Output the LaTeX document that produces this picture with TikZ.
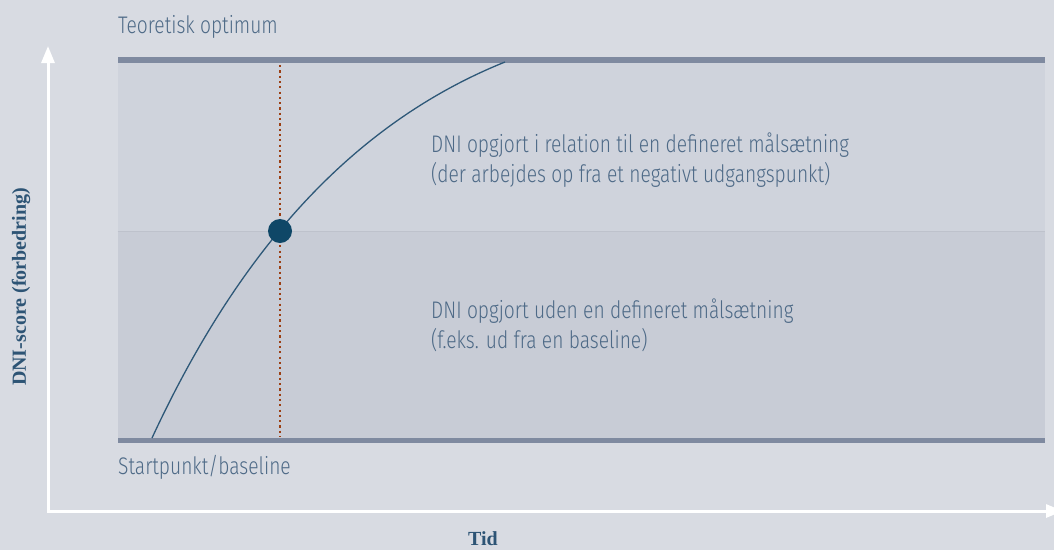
\documentclass[tikz,border=0pt]{standalone}
\usepackage{fontspec}
\setmainfont{Liberation Serif}
\newfontfamily\lightfont{Fira Sans Light}[FakeStretch=0.8]
\usetikzlibrary{arrows.meta}
\definecolor{bg}{HTML}{D8DBE2}
\definecolor{upfill}{HTML}{CFD3DC}
\definecolor{lowfill}{HTML}{C8CCD6}
\definecolor{bar}{HTML}{7F8AA0}
\definecolor{divider}{HTML}{BEC2CC}
\definecolor{dots}{HTML}{9B3F14}
\definecolor{dotfill}{HTML}{0F4767}
\definecolor{curve}{HTML}{2E5878}
\definecolor{txt}{HTML}{4E6A87}
\definecolor{axtxt}{HTML}{2D5475}
\tikzset{
  lbl/.style={font=\lightfont\fontsize{24}{30}\selectfont, text=txt, inner sep=0pt, anchor=base west},
  axlbl/.style={font=\bfseries\fontsize{20}{24}\selectfont, text=axtxt, inner sep=0pt},
  axis/.style={draw=white, line width=3pt, line join=miter,
    {Triangle[length=17pt,width=13pt]}-{Triangle[length=17pt,width=13pt]}},
  barline/.style={fill=bar},
  marker/.style={draw=dots, line width=2.2pt, dash pattern=on 2.2pt off 3.1pt},
}
\begin{document}
\begin{tikzpicture}[x=1pt,y=-1pt]
\useasboundingbox (0,0) rectangle (1054,550);
\clip (0,0) rectangle (1054,550);
\fill[bg] (0,0) rectangle (1054,550);
% regions
\fill[upfill] (117.5,62) rectangle (1045,231);
\fill[lowfill] (117.5,231) rectangle (1045,438);
\draw[divider, line width=0.8pt] (117.5,231) -- (1045,231);
% bars
\fill[barline] (117.5,57) rectangle (1045,62.5);
\fill[barline] (117.5,437.5) rectangle (1045,443);
% axes
\coordinate (ytip) at (48,46);
\coordinate (origin) at (48,511);
\coordinate (xtip) at (1063,511);
\draw[axis] (ytip) -- (origin) -- (xtip);
% dotted marker
\coordinate (mtop) at (280,65);
\coordinate (mbot) at (280,437);
\draw[marker] (mtop) -- (mbot);
% curve
\coordinate (cstart) at (152,438);
\coordinate (cend) at (505,62);
\draw[curve, line width=1.3pt] (cstart) .. controls (241,246) and (356,122) .. (cend);
% point
\node[circle, fill=dotfill, minimum size=24pt, inner sep=0pt] (pt) at (280,231) {};
% labels
\node[lbl] (teo) at (118,33) {Teoretisk optimum};
\node[lbl] (start) at (118,474) {Startpunkt/baseline};
\node[lbl] (up1) at (431,152) {DNI opgjort i relation til en defineret målsætning};
\node[lbl] (up2) at (431,182) {(der arbejdes op fra et negativt udgangspunkt)};
\node[lbl] (lo1) at (431,318) {DNI opgjort uden en defineret målsætning};
\node[lbl] (lo2) at (431,348) {(f.eks. ud fra en baseline)};
\node[axlbl, rotate=90] (ylab) at (21,287) {DNI-score (forbedring)};
\node[axlbl, anchor=base] (tid) at (483,545.5) {Tid};
\end{tikzpicture}
\end{document}
